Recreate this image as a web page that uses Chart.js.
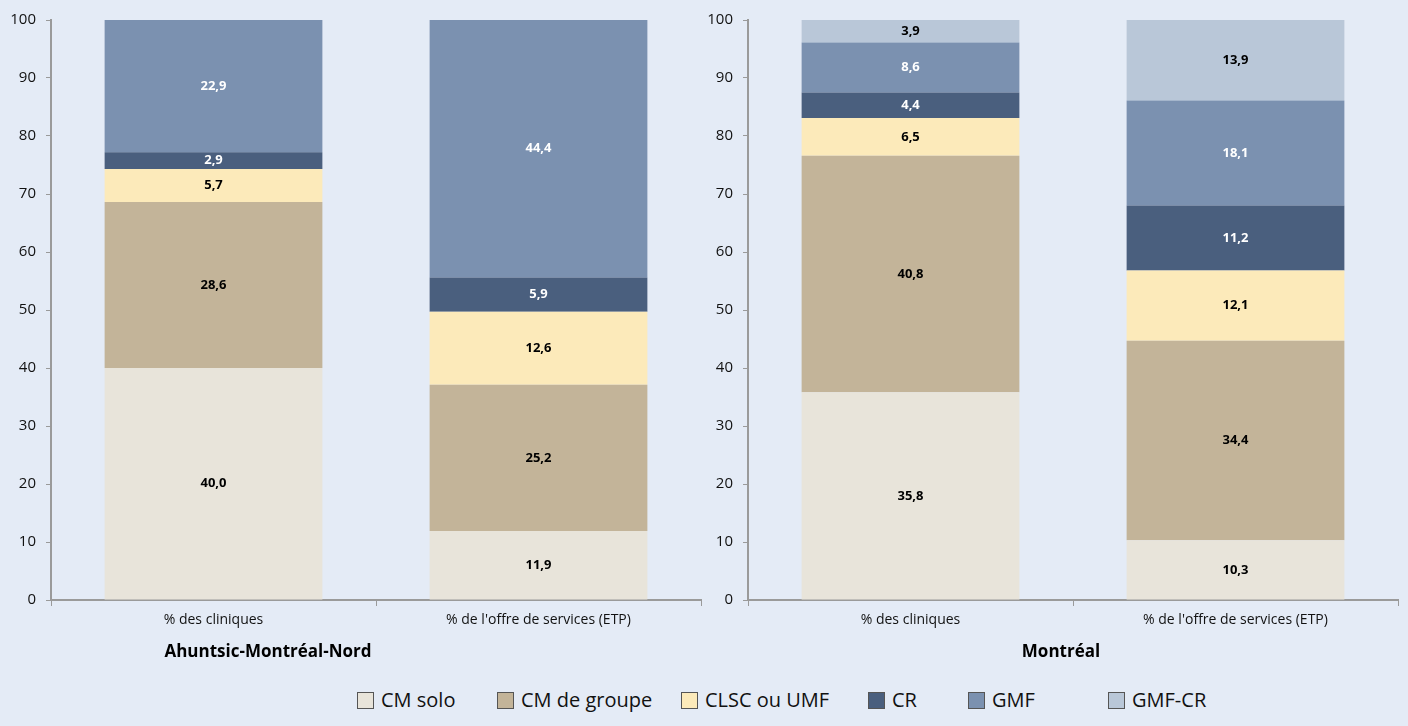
<!DOCTYPE html>
<html>
<head>
<meta charset="utf-8">
<script src="https://cdn.jsdelivr.net/npm/chart.js@4/dist/chart.umd.min.js"></script>
<style>
  html, body { margin: 0; padding: 0; background: #E4EBF6; }
  body { width: 1408px; height: 726px; position: relative; overflow: hidden;
         font-family: "Open Sans", sans-serif; }
  #left { position: absolute; left: 0; top: 0; }
  #right { position: absolute; left: 705px; top: 0; }
  .title { position: absolute; top: 640px; transform: translateX(-50%); white-space: nowrap;
           font-size: 17px; font-weight: bold; color: #000; line-height: 22px; }
  #legend { position: absolute; left: 0; top: 686px; width: 1408px; height: 28px;
            font-size: 20px; color: #111; line-height: 28px; }
  #legend span.item { position: absolute; top: 0; display: flex; align-items: center; white-space: nowrap; }
  #legend span.box { width: 15px; height: 15px; border: 1px solid #555; margin-right: 7px; display: inline-block; }
</style>
</head>
<body>
<canvas id="left" width="705" height="680"></canvas>
<canvas id="right" width="703" height="680"></canvas>
<div class="title" style="left:268px">Ahuntsic-Montréal-Nord</div>
<div class="title" style="left:1061px">Montréal</div>
<div id="legend"></div>
<script>
const categories = ['% des cliniques', "% de l'offre de services (ETP)"];
const seriesNames = ['CM solo', 'CM de groupe', 'CLSC ou UMF', 'CR', 'GMF', 'GMF-CR'];
const seriesColors = ['#E8E4DA', '#C3B499', '#FCEABA', '#4A5F7E', '#7B91B0', '#B9C7D8'];
const labelColors = ['#000', '#000', '#000', '#fff', '#fff', '#000'];

// Ahuntsic-Montréal-Nord
const ahuntsicValues = [
  [40.0, 11.9],
  [28.6, 25.2],
  [5.7, 12.6],
  [2.9, 5.9],
  [22.9, 44.4],
  [0, 0]
];
// Montréal
const montrealValues = [
  [35.8, 10.3],
  [40.8, 34.4],
  [6.5, 12.1],
  [4.4, 11.2],
  [8.6, 18.1],
  [3.9, 13.9]
];

const fontFamily = '"Open Sans", sans-serif';

// draws the value inside each segment
const segmentLabels = {
  id: 'segmentLabels',
  afterDatasetsDraw(chart) {
    const ctx = chart.ctx;
    ctx.save();
    ctx.font = 'bold 13px ' + fontFamily;
    ctx.textAlign = 'center';
    ctx.textBaseline = 'middle';
    chart.data.datasets.forEach((ds, i) => {
      const meta = chart.getDatasetMeta(i);
      meta.data.forEach((bar, j) => {
        const v = ds.data[j];
        if (!v) return;
        ctx.fillStyle = labelColors[i];
        ctx.fillText(v.toFixed(1).replace('.', ','), bar.x, (bar.y + bar.base) / 2);
      });
    });
    ctx.restore();
  }
};

function makeChart(id, values, yWidth, padRight) {
  return new Chart(document.getElementById(id), {
    type: 'bar',
    data: {
      labels: categories,
      datasets: seriesNames.map((name, i) => ({
        label: name,
        data: values[i],
        backgroundColor: seriesColors[i],
        borderWidth: 0,
        categoryPercentage: 0.67,
        barPercentage: 1
      }))
    },
    options: {
      responsive: false,
      animation: false,
      layout: { padding: { top: 20, right: padRight, bottom: 0, left: 0 } },
      plugins: { legend: { display: false }, tooltip: { enabled: false } },
      scales: {
        x: {
          stacked: true,
          grid: { drawOnChartArea: false, color: '#9A9A9A', tickLength: 6, offset: true },
          border: { color: '#9A9A9A', width: 2 },
          ticks: { color: '#111', font: { family: fontFamily, size: 14 }, padding: 6 },
          afterFit: s => { s.height = 80; }
        },
        y: {
          stacked: true,
          min: 0, max: 100,
          ticks: { stepSize: 10, color: '#111', font: { family: fontFamily, size: 15 }, padding: 10 },
          grid: { drawOnChartArea: false, color: '#9A9A9A', tickLength: 5 },
          border: { color: '#9A9A9A', width: 2 },
          afterFit: s => { s.width = yWidth; }
        }
      }
    },
    plugins: [segmentLabels]
  });
}

makeChart('left', ahuntsicValues, 51, 4);
makeChart('right', montrealValues, 43, 10);

// legend (item positions follow the original layout)
const legendLeft = [357, 497, 681, 868, 968, 1108];
const legend = document.getElementById('legend');
seriesNames.forEach((name, i) => {
  const item = document.createElement('span');
  item.className = 'item';
  item.style.left = legendLeft[i] + 'px';
  item.innerHTML = '<span class="box" style="background:' + seriesColors[i] + '"></span>' + name;
  legend.appendChild(item);
});
</script>
</body>
</html>
